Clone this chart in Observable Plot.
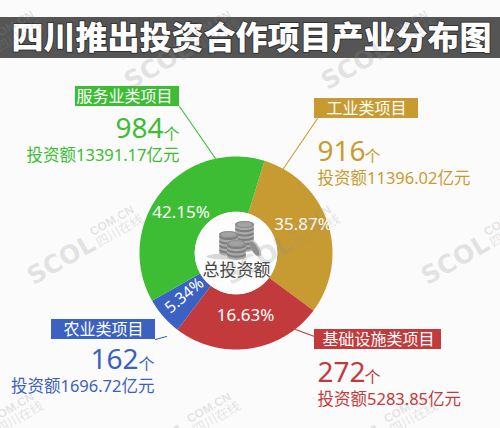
<!DOCTYPE html>
<html><head><meta charset="utf-8">
<script src="https://cdn.jsdelivr.net/npm/d3@7"></script>
<script src="https://cdn.jsdelivr.net/npm/@observablehq/plot@0.6"></script>
<style>html,body{margin:0;padding:0;background:#fbfbfb}svg{display:block}</style>
</head><body><div id="c"></div><script>
const titleText = "四川推出投资合作项目产业分布图";
const centerLabel = "总投资额";
const categories = ["工业类项目","基础设施类项目","农业类项目","服务业类项目"];
const projectCounts = [916,272,162,984];
const investment = ["11396.02","5283.85","1696.72","13391.17"];
const percentLabels = ["35.87%","16.63%","5.34%","42.15%"];
const drawnShares = [30.4,25.2,6.4,38.0];
const colors = ["#c89b32","#c23a3c","#3b62c2","#3cbd34"];

const FONT = "'Noto Sans','Noto Sans CJK SC',sans-serif";
const CX = 235.5, CY = 252.5, R = 96.5, r0 = 41.3, START = 17.2;
const polar = (a, rr) => [CX + rr*Math.sin(a*Math.PI/180), CY - rr*Math.cos(a*Math.PI/180)];

// wedges
const wedgePts = [];
let acc = START;
drawnShares.forEach((s,i)=>{
  const a0 = acc, a1 = acc + s*3.6; acc = a1;
  const n = Math.ceil(a1-a0);
  for (let k=0;k<=n;k++){const [x,y]=polar(a0+(a1-a0)*k/n,R);wedgePts.push({x,y,z:"w"+i,f:colors[i]});}
  for (let k=n;k>=0;k--){const [x,y]=polar(a0+(a1-a0)*k/n,r0);wedgePts.push({x,y,z:"w"+i,f:colors[i]});}
});
// coins
const coinPts = [];
function ell(id,cx,cy,rx,ry,f,rot=0){
  for(let k=0;k<=40;k++){const t=k/40*2*Math.PI,ex=rx*Math.cos(t),ey=ry*Math.sin(t),c=Math.cos(rot),s=Math.sin(rot);
    coinPts.push({x:cx+ex*c-ey*s,y:cy+ex*s+ey*c,z:id,f});}
}
ell("sh",226,256,20,3,"#d8d8d8");
function stack(id,cx,top,bot){
  const n=Math.round((bot-top)/2.2);
  for(let i=0;i<=n;i++){ell(id+i,cx,bot-(bot-top)*i/n,9.5,3.4,i%2?"#7f7f7f":"#ababab");}
  ell(id+"t",cx,top,9.5,3.4,"#8c8c8c");
  ell(id+"u",cx,top,7.5,2.4,"#a3a3a3");
}
stack("b",244,224,248);
ell("tc",255,248,4,9,"#c4c4c4",-0.5);
ell("tc2",254,248,3,8,"#8e8e8e",-0.5);
stack("l",228,234,252);
stack("f",236,243,256);

// watermark anchors
const wmRows = [[-67,90],[130,90],[327,90],[33,285],[230,285],[427,285],[-67,472],[130,472],[327,472]];
const ROT=-30, c=Math.cos(ROT*Math.PI/180), s=Math.sin(ROT*Math.PI/180);
const along=(p,a,b)=>({x:p[0]+a*c-b*s,y:p[1]+a*s+b*c});
const wmS = wmRows.map(p=>along(p,0,0));
const wmC = wmRows.map(p=>along(p,76,-13));
const wmZ = wmRows.map(p=>along(p,76,0));
const WM="rgba(140,140,140,0.22)";

// label layout
const idx=[0,1,2,3];
const boxX1=[314,314,51,75], boxX2=[418,441,155,179], boxY1=[98,329,319,86], boxY2=[118,349,339,106];
const textCx=[366,378,103,124];
const leadA=[[317,118],[295,329],[155,339],[179,106]], leadB=[[283,168],[314,336],[166,336],[215,158]];
const numX=[317,317,138,163], numY=[152,373,360,129];
const geX=[364,364,138,163], geY=[156,377,364,134];
const invX=[317,317,154,179], invY=[178,399,386,155];
const pctX=[302.5,245,184,180.5], pctY=[224,315,295,212], pctRot=[0,0,-40,0];
const startSide=[0,1], endSide=[2,3];

const plot = Plot.plot({
  width:500,height:428,margin:0,
  x:{domain:[0,500],range:[0,500],axis:null},
  y:{domain:[0,428],range:[0,428],axis:null},
  color:{type:"identity"},
  style:{background:"#fbfbfb",fontFamily:FONT},
  marks:[
    Plot.rect([0],{x1:0,x2:500,y1:17,y2:58,fill:"#555555"}),
    Plot.text([titleText],{x:251,y:38,text:d=>d,fill:"white",stroke:"#333",strokeWidth:2,fontSize:32,fontWeight:900,fontFamily:"'Noto Sans CJK SC',sans-serif"}),
    Plot.line(idx.map(i=>[leadA[i],leadB[i]].map(p=>({x:p[0],y:p[1],z:i,f:colors[i]}))).flat(),{x:"x",y:"y",z:"z",stroke:"f",strokeWidth:1.1}),
    Plot.line(wedgePts,{x:"x",y:"y",z:"z",fill:"f",stroke:"none",curve:"linear"}),
    Plot.dot([0],{x:CX,y:CY,r:r0,fill:"#fdfdfd"}),
    Plot.line(coinPts,{x:"x",y:"y",z:"z",fill:"f",stroke:"none",curve:"linear"}),
    Plot.text([centerLabel],{x:236,y:270,text:d=>d,fontSize:17,fill:"#444"}),
    Plot.rect(idx,{x1:i=>boxX1[i],x2:i=>boxX2[i],y1:i=>boxY1[i],y2:i=>boxY2[i],fill:i=>colors[i]}),
    Plot.text(idx,{x:i=>textCx[i],y:i=>(boxY1[i]+boxY2[i])/2,text:i=>categories[i],fill:"white",fontSize:16}),
    Plot.text(startSide,{x:i=>numX[i],y:i=>numY[i],text:i=>String(projectCounts[i]),fill:i=>colors[i],fontSize:28,textAnchor:"start"}),
    Plot.text(endSide,{x:i=>numX[i],y:i=>numY[i],text:i=>String(projectCounts[i]),fill:i=>colors[i],fontSize:28,textAnchor:"end"}),
    Plot.text(idx,{x:i=>geX[i],y:i=>geY[i],text:()=>"个",fill:i=>colors[i],fontSize:16,textAnchor:"start"}),
    Plot.text(startSide,{x:i=>invX[i],y:i=>invY[i],text:i=>"投资额"+investment[i]+"亿元",fill:i=>colors[i],fontSize:16.5,textAnchor:"start"}),
    Plot.text(endSide,{x:i=>invX[i],y:i=>invY[i],text:i=>"投资额"+investment[i]+"亿元",fill:i=>colors[i],fontSize:16.5,textAnchor:"end"}),
    Plot.text(idx,{x:i=>pctX[i],y:i=>pctY[i],text:i=>percentLabels[i],fill:"white",fontSize:i=>i===2?16:17,rotate:i=>pctRot[i]}),
    Plot.text(wmS,{x:"x",y:"y",text:()=>"SCOL",rotate:ROT,fontSize:25,fontWeight:"bold",fill:WM,textAnchor:"start",lineAnchor:"bottom",fontFamily:"'DejaVu Sans',sans-serif"}),
    Plot.text(wmC,{x:"x",y:"y",text:()=>"COM.CN",rotate:ROT,fontSize:12,fontWeight:"bold",fill:WM,textAnchor:"start",lineAnchor:"bottom",fontFamily:"'Liberation Sans',sans-serif"}),
    Plot.text(wmZ,{x:"x",y:"y",text:()=>"四川在线",rotate:ROT,fontSize:13,fill:WM,textAnchor:"start",lineAnchor:"bottom"})
  ]
});
document.getElementById("c").append(plot);
</script></body></html>
